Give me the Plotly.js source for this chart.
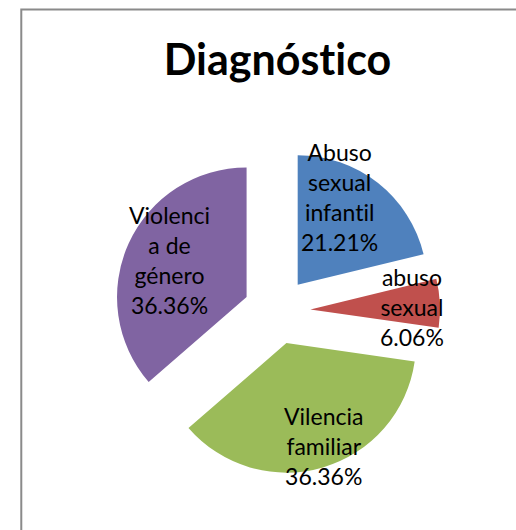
<!DOCTYPE html>
<html>
<head>
<meta charset="utf-8">
<script src="https://cdn.plot.ly/plotly-3.0.1.min.js"></script>
<style>html,body{margin:0;padding:0;background:#fff;}#chart{width:516px;height:530px;}
#chart text{font-variant-ligatures:none;font-feature-settings:"liga" 0;}</style>
</head>
<body>
<div id="chart"></div>
<script>
// Data
const categories = ["Abuso sexual infantil", "abuso sexual", "Vilencia familiar", "Violencia de género"];
const displayLabels = ["Abuso<br>sexual<br>infantil", "abuso<br>sexual", "Vilencia<br>familiar", "Violenci<br>a de<br>género"];
const counts = [7, 2, 12, 12];
const colors = ["#4F81BD", "#C0504D", "#9BBB59", "#8064A2"];

// Layout geometry (pixels)
const W = 516, H = 530;
const PULL = 0.258;
const plotL = 113.5, plotR = 75.5, plotT = 147.5, plotB = 55.5;
const plotW = W - plotL - plotR, plotH = H - plotT - plotB;
// label centres (pixels) - placement style
const labelPos = [[340, 197], [412, 307], [324, 446], [169, 260]];

const total = counts.reduce((a, b) => a + b, 0);
const annotations = counts.map((v, i) => ({
  xref: 'paper', yref: 'paper',
  x: (labelPos[i][0] - plotL) / plotW,
  y: (H - plotB - labelPos[i][1]) / plotH,
  xanchor: 'center', yanchor: 'middle',
  showarrow: false,
  align: 'center',
  text: displayLabels[i] + '<br>' + (v / total * 100).toFixed(2) + '%',
  font: {family: 'Lato, "DejaVu Sans", sans-serif', size: 23, color: '#000'}
}));

const trace = {
  type: 'pie',
  labels: categories,
  values: counts,
  sort: false,
  direction: 'clockwise',
  rotation: 0,
  pull: counts.map(() => PULL),
  marker: {colors: colors, line: {width: 0}},
  textinfo: 'none',
  hoverinfo: 'label+percent',
  showlegend: false,
  domain: {x: [0, 1], y: [0, 1]}
};

const layout = {
  width: W, height: H,
  margin: {l: plotL, r: plotR, t: plotT, b: plotB, pad: 0},
  paper_bgcolor: '#fff',
  plot_bgcolor: '#fff',
  showlegend: false,
  title: {
    text: '<b>Diagnóstico</b>',
    font: {family: 'Lato, "DejaVu Sans", sans-serif', size: 43, color: '#000'},
    x: 277.5 / W, xanchor: 'center', xref: 'container',
    y: 1 - 60 / H, yanchor: 'middle', yref: 'container'
  },
  annotations: annotations,
  shapes: [{
    type: 'rect', xref: 'paper', yref: 'paper',
    x0: (20.5 - plotL) / plotW, x1: (W + 20 - plotL) / plotW,
    y0: (H - plotB - (H + 20)) / plotH, y1: (H - plotB - 8.5) / plotH,
    line: {color: '#8a8a8a', width: 2}, fillcolor: 'rgba(0,0,0,0)', layer: 'below'
  }]
};

Plotly.newPlot('chart', [trace], layout, {displayModeBar: false, staticPlot: true});
</script>
</body>
</html>
